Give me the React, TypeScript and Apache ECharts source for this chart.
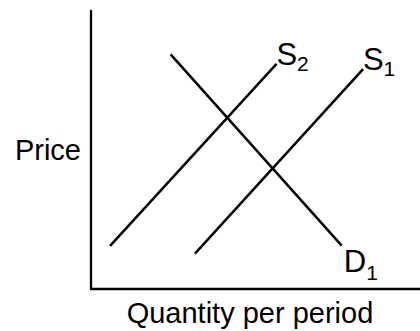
import React, { useEffect, useRef } from "react";
import * as echarts from "echarts";

const supplyS2: [number, number][] = [
  [5.8, 15.5],
  [56.4, 81.0],
];
const supplyS1: [number, number][] = [
  [31.6, 12.7],
  [82.7, 79.1],
];
const demandD1: [number, number][] = [
  [24.2, 84.4],
  [76.2, 15.6],
];
const curveLetters = ["S", "S", "D"];
const curveSubs = ["2", "1", "1"];
const xAxisName = "Quantity per period";
const yAxisName = "Price";

const FONT = "Liberation Sans, Arial, sans-serif";

function labelPoints(end: [number, number], letter: string, sub: string, below: boolean) {
  const letterOffset = below ? [2, 15.5] : [0, -9.6];
  const subOffset = below ? [24.5, 26.5] : [20.5, -0.5];
  const common = {
    coord: end,
    symbol: "circle",
    symbolSize: 0,
    itemStyle: { color: "transparent" },
  };
  return [
    {
      ...common,
      label: {
        show: true,
        formatter: letter,
        position: "inside",
        align: "left",
        verticalAlign: "middle",
        offset: letterOffset,
        fontSize: 31,
        lineHeight: 31,
        fontFamily: FONT,
        color: "#000",
      },
    },
    {
      ...common,
      label: {
        show: true,
        formatter: sub,
        position: "inside",
        align: "left",
        verticalAlign: "middle",
        offset: subOffset,
        fontSize: 21,
        lineHeight: 21,
        fontFamily: FONT,
        color: "#000",
      },
    },
  ];
}

export default function App() {
  const ref = useRef<HTMLDivElement>(null);
  useEffect(() => {
    document.body.style.margin = "0";
    const chart = echarts.init(ref.current!, null, { renderer: "svg" });
    const lineStyle = { color: "#000", width: 2.5 };
    const curves = [supplyS2, supplyS1, demandD1];
    chart.setOption({
      animation: false,
      backgroundColor: "#fff",
      grid: { left: 91, right: 0, top: 11, bottom: 42, outerBoundsMode: "none", containLabel: false },
      xAxis: {
        type: "value",
        min: 0,
        max: 100,
        name: xAxisName,
        nameLocation: "middle",
        nameGap: 9,
        nameTextStyle: { fontSize: 29, fontFamily: FONT, color: "#000", padding: [0, 11, 0, 0] },
        axisLine: { show: true, lineStyle: { color: "#000", width: 2.3 } },
        axisTick: { show: false },
        axisLabel: { show: false },
        splitLine: { show: false },
      },
      yAxis: {
        type: "value",
        min: 0,
        max: 100,
        name: yAxisName,
        nameLocation: "middle",
        nameRotate: 0,
        nameGap: 10,
        nameTextStyle: { fontSize: 29, fontFamily: FONT, color: "#000", align: "right" },
        axisLine: { show: true, lineStyle: { color: "#000", width: 2.3 } },
        axisTick: { show: false },
        axisLabel: { show: false },
        splitLine: { show: false },
      },
      series: curves.map((data, i) => ({
        type: "line",
        data,
        showSymbol: false,
        lineStyle,
        silent: true,
        markPoint: {
          silent: true,
          data: labelPoints(data[data.length - 1], curveLetters[i], curveSubs[i], i === 2),
        },
      })),
    });
    return () => chart.dispose();
  }, []);
  return <div ref={ref} style={{ width: 420, height: 331 }} />;
}
